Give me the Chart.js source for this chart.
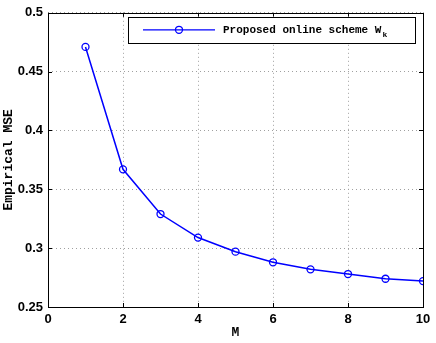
<!DOCTYPE html>
<html>
<head>
<meta charset="utf-8">
<script src="https://cdn.jsdelivr.net/npm/chart.js@4.4.0/dist/chart.umd.min.js"></script>
<style>
  html, body { margin: 0; padding: 0; background: #fff; }
  #wrap { width: 436px; height: 343px; }
</style>
</head>
<body>
<div id="wrap"><canvas id="mseChart"></canvas></div>
<script>
// values
const mValues = [1, 2, 3, 4, 5, 6, 7, 8, 9, 10];
const mseValues = [0.471, 0.367, 0.329, 0.309, 0.297, 0.288, 0.282, 0.278, 0.274, 0.272];
const xTickValues = [0, 2, 4, 6, 8, 10];
const yTickValues = [0.25, 0.3, 0.35, 0.4, 0.45, 0.5];
const seriesLabel = 'Proposed online scheme W';
const seriesSub = 'k';

const blue = 'rgb(0, 0, 255)';
const monoFont = '"Liberation Mono", "DejaVu Sans Mono", monospace';
const sansFont = '"Liberation Sans", Arial, sans-serif';

// frame, inward ticks and the legend box, MATLAB style
const matlabFrame = {
    id: 'matlabFrame',
    afterDatasetsDraw(chart) {
        const { ctx, chartArea: a, scales: { x, y } } = chart;
        ctx.save();
        ctx.strokeStyle = '#000';
        ctx.lineWidth = 1;
        ctx.beginPath();
        xTickValues.forEach(v => {
            const px = Math.round(x.getPixelForValue(v)) + 0.5;
            ctx.moveTo(px, a.bottom); ctx.lineTo(px, a.bottom - 4);
            ctx.moveTo(px, a.top); ctx.lineTo(px, a.top + 4);
        });
        yTickValues.forEach(v => {
            const py = Math.round(y.getPixelForValue(v)) + 0.5;
            ctx.moveTo(a.left, py); ctx.lineTo(a.left + 4, py);
            ctx.moveTo(a.right, py); ctx.lineTo(a.right - 4, py);
        });
        ctx.stroke();
        ctx.strokeRect(Math.round(a.left) + 0.5, Math.round(a.top) + 0.5,
            Math.round(a.right - a.left), Math.round(a.bottom - a.top));

        // legend
        const bx = a.left + 80, by = a.top + 4;
        const bw = a.right - 8 - bx, bh = 26;
        ctx.fillStyle = '#fff';
        ctx.fillRect(bx, by, bw, bh);
        ctx.strokeRect(Math.round(bx) + 0.5, Math.round(by) + 0.5, Math.round(bw), bh);
        const my = by + bh / 2;
        ctx.strokeStyle = blue;
        ctx.lineWidth = 1.3;
        ctx.beginPath();
        ctx.moveTo(bx + 15, my); ctx.lineTo(bx + 87, my);
        ctx.stroke();
        ctx.beginPath();
        ctx.arc(bx + 51, my, 3.5, 0, Math.PI * 2);
        ctx.stroke();
        ctx.fillStyle = '#000';
        ctx.textBaseline = 'middle';
        ctx.font = 'bold 11px ' + monoFont;
        ctx.fillText(seriesLabel, bx + 95, my);
        const w = ctx.measureText(seriesLabel).width;
        ctx.font = 'bold 8px ' + monoFont;
        ctx.fillText(seriesSub, bx + 95 + w + 1, my + 5);
        ctx.restore();
    }
};

function initializeMseChart() {
    const ctx = document.getElementById('mseChart').getContext('2d');

    new Chart(ctx, {
        type: 'line',
        data: {
            datasets: [{
                label: seriesLabel + seriesSub,
                data: mValues.map((m, i) => ({ x: m, y: mseValues[i] })),
                borderColor: blue,
                borderWidth: 1.5,
                backgroundColor: 'rgba(0,0,0,0)',
                pointStyle: 'circle',
                pointRadius: 3.5,
                pointBorderWidth: 1.3,
                pointBorderColor: blue,
                pointBackgroundColor: 'rgba(0,0,0,0)',
                tension: 0,
                fill: false
            }]
        },
        options: {
            responsive: true,
            maintainAspectRatio: false,
            animation: false,
            layout: { padding: { top: 12, right: 13, left: 0, bottom: 0 } },
            plugins: {
                legend: { display: false },
                tooltip: { enabled: false }
            },
            scales: {
                x: {
                    type: 'linear',
                    min: 0,
                    max: 10,
                    afterBuildTicks: s => { s.ticks = xTickValues.map(v => ({ value: v })); },
                    afterFit: s => { s.height = 36; },
                    grid: {
                        color: '#a0a0a0',
                        lineWidth: 1,
                        drawTicks: false,
                        tickBorderDash: [1, 3]
                    },
                    border: { display: false, dash: [1, 3] },
                    ticks: {
                        padding: 5,
                        color: '#000',
                        font: { family: sansFont, size: 13, weight: 'bold' }
                    },
                    title: {
                        display: true,
                        text: 'M',
                        color: '#000',
                        padding: { top: 0, bottom: 2 },
                        font: { family: monoFont, size: 13, weight: 'bold' }
                    }
                },
                y: {
                    min: 0.25,
                    max: 0.5,
                    afterBuildTicks: s => { s.ticks = yTickValues.map(v => ({ value: v })); },
                    afterFit: s => { s.width = 48; },
                    grid: {
                        color: '#a0a0a0',
                        lineWidth: 1,
                        drawTicks: false
                    },
                    border: { display: false, dash: [1, 3] },
                    ticks: {
                        padding: 5,
                        color: '#000',
                        font: { family: sansFont, size: 13, weight: 'bold' },
                        callback: v => String(Number(v.toFixed(2)))
                    },
                    title: {
                        display: true,
                        text: 'Empirical MSE',
                        color: '#000',
                        padding: { top: 1, bottom: 0 },
                        font: { family: monoFont, size: 13, weight: 'bold' }
                    }
                }
            }
        },
        plugins: [matlabFrame, {
            id: 'dottedGrid',
            beforeDraw(chart) {
                // dotted grid lines like MATLAB's ':' style
                Object.values(chart.scales).forEach(sc => {
                    sc.options.grid.borderDash = [1, 3];
                });
            }
        }]
    });
}

document.addEventListener('DOMContentLoaded', initializeMseChart);
</script>
</body>
</html>
